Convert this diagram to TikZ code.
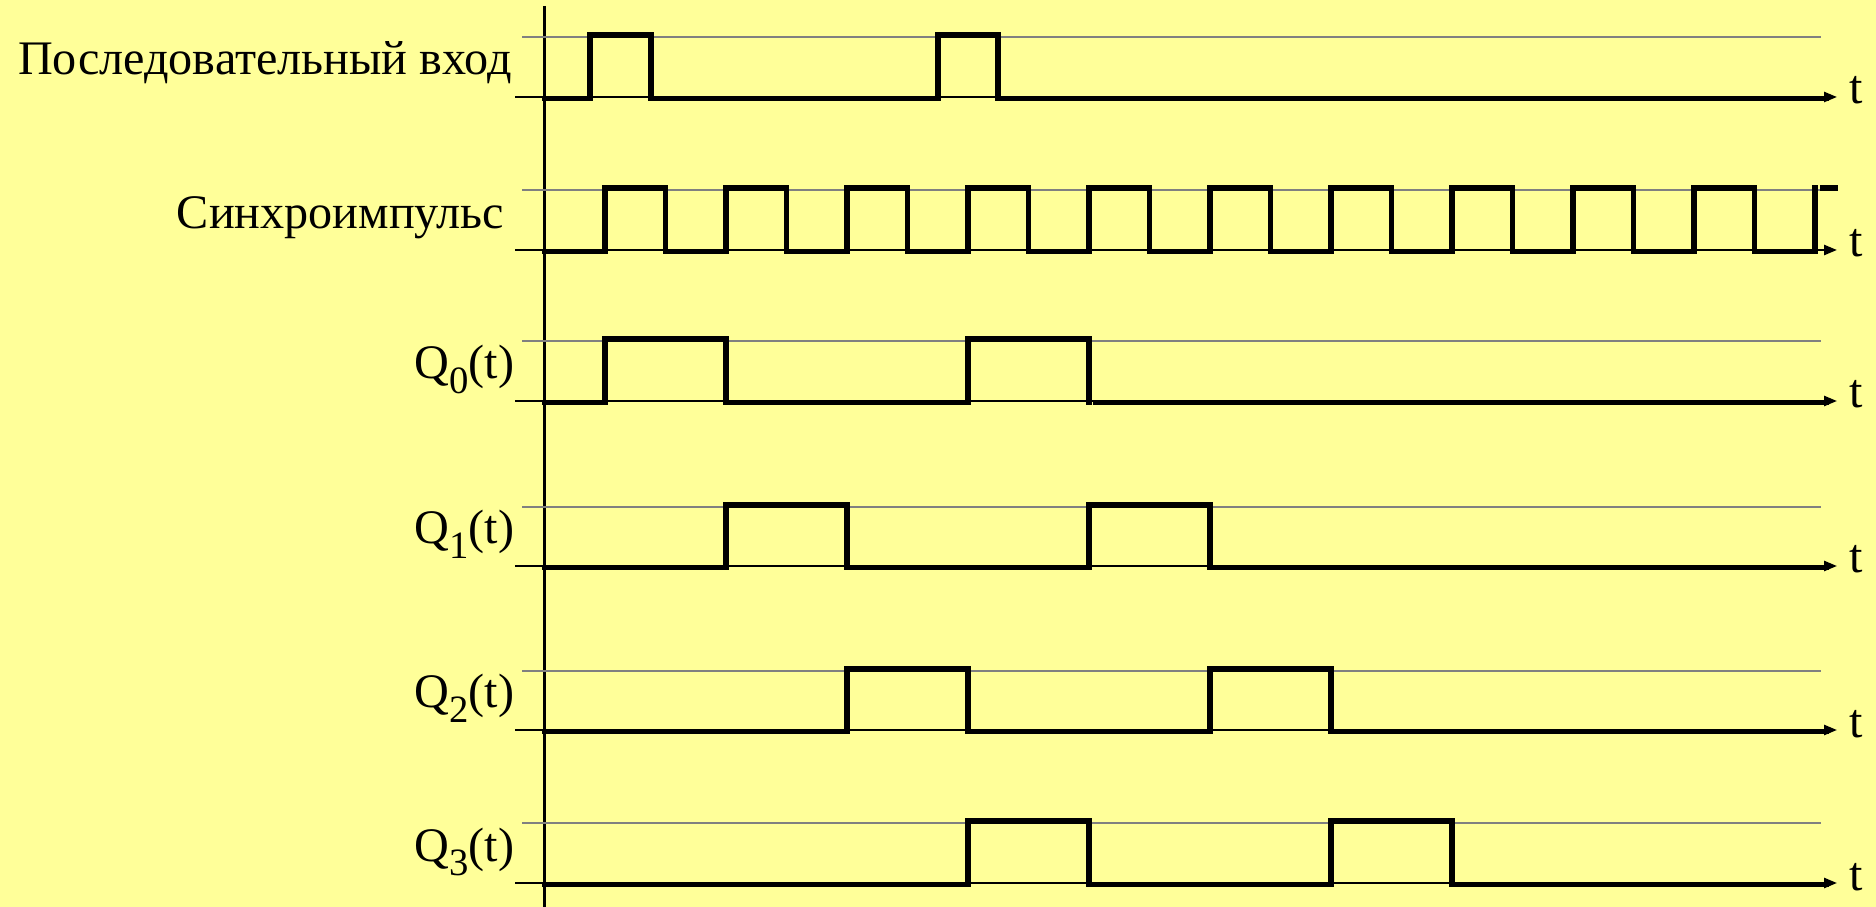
\documentclass[tikz,border=0pt]{standalone}
\usepackage{fontspec}
\setmainfont{Liberation Serif}
\usetikzlibrary{
  arrows.meta,
  positioning,
}
\definecolor{slidebg}{HTML}{FFFF99}
\definecolor{levelgray}{HTML}{808080}
\newcommand{\qsub}[1]{\raisebox{-0.3em}{\fontsize{11}{12}\selectfont #1}}

\begin{document}
\begin{tikzpicture}[
    x=0.01cm, y=-0.01cm,
    wave/.style={line width=1.65pt, line join=miter, line cap=rect},
    timeaxis/.style={line width=0.7pt, -{Triangle[length=0.13cm, width=0.1cm]}},
    highline/.style={draw=levelgray, line width=0.6pt},
    siglabel/.style={anchor=base east, inner sep=0pt, font=\fontsize{13.7}{16}\selectfont},
    tlabel/.style={anchor=base west, inner sep=0pt, font=\fontsize{13.7}{16}\selectfont},
  ]
  \useasboundingbox (0,0) rectangle (1876,907);
  \fill[slidebg] (0,0) rectangle (1876,907);

  % vertical axis
  \coordinate (ytop) at (544.5,6);
  \coordinate (ybot) at (544.5,907);
  \draw[line width=0.7pt] (ytop) -- (ybot);

  % levels and time axes
  \foreach \r/\lo/\hi in {in/97/37, clk/250/190, q0/401/341,
                          q1/566/507, q2/730/671, q3/883/823} {
    \coordinate (\r-s) at (515,\lo);
    \coordinate (\r-e) at (1837,\lo);
    \coordinate (\r-hs) at (522,\hi);
    \coordinate (\r-he) at (1821,\hi);
    \draw[highline] (\r-hs) -- (\r-he);
    \draw[timeaxis] (\r-s) -- (\r-e);
    \node[tlabel] (\r-t) at (1849,\lo+7) {t};
  }

  % labels
  \node[siglabel] (lblin)  at (512.5,75)  {Последовательный вход};
  \node[siglabel] (lblclk) at (505,229) {Синхроимпульс};
  \node[siglabel] (lblq0)  at (515,379) {Q\qsub{0}(t)};
  \node[siglabel] (lblq1)  at (515,544) {Q\qsub{1}(t)};
  \node[siglabel] (lblq2)  at (515,708) {Q\qsub{2}(t)};
  \node[siglabel] (lblq3)  at (515,861) {Q\qsub{3}(t)};

  % serial input
  \draw[wave] (545,98.5) -| (590,35) -| (651,98.5) -| (938,35) -| (998,98.5)
    -- (1826,98.5);

  % clock
  \draw[wave] (545,251.5) \foreach \k in {0,...,9} {
      -| (605+121*\k,188) -| (665.5+121*\k,251.5) } -| (1815,188);
  \draw[wave] (1823,188) -- (1835,188);

  % register outputs
  \draw[wave] (545,402.5) -| (605,339) -| (726,402.5) -| (968,339) -| (1089,402.5);
  \draw[wave] (1096,402.5) -- (1826,402.5);
  \draw[wave] (545,567.5) -| (726,505) -| (847,567.5) -| (1089,505) -| (1210,567.5)
    -- (1826,567.5);
  \draw[wave] (545,731.5) -| (847,669) -| (968,731.5) -| (1210,669) -| (1331,731.5)
    -- (1826,731.5);
  \draw[wave] (545,884.5) -| (968,821) -| (1089,884.5) -| (1331,821) -| (1452,884.5)
    -- (1826,884.5);
\end{tikzpicture}
\end{document}
